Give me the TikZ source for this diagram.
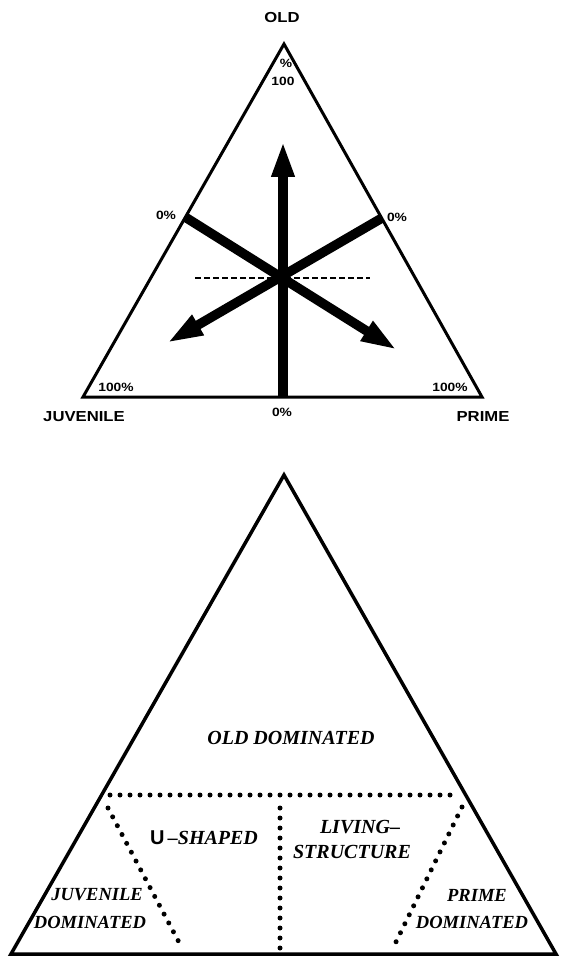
\documentclass[tikz,border=0pt]{standalone}
\usepackage{fontspec}
\setmainfont{Liberation Serif}
\newfontfamily\labfont[FakeStretch=1.15]{Liberation Sans}
\newfontfamily\usans{Liberation Sans}
\usetikzlibrary{arrows.meta}
\begin{document}
\begin{tikzpicture}[x=1pt,y=-1pt,
  lab/.style={font=\labfont\bfseries\fontsize{14.5}{15}\selectfont, inner sep=0pt},
  small/.style={font=\labfont\bfseries\fontsize{12}{12}\selectfont, inner sep=0pt},
  reg/.style={font=\bfseries\itshape\fontsize{20}{20}\selectfont, inner sep=0pt},
  corner/.style={font=\bfseries\itshape\fontsize{18.5}{19}\selectfont, inner sep=0pt},
  edge/.style={line width=3pt, line join=miter},
  bigarrow/.style={line width=9.5pt, -{Triangle[length=36pt,width=21pt]}},
  dashes/.style={line width=2.8pt, dash pattern=on 6pt off 3pt},
  dots/.style={line width=5pt, line cap=round, dash pattern=on 0pt off 10pt}]
\useasboundingbox (0,0) rectangle (560,957);
% ---- top triangle ----
\coordinate (tA) at (284,44);
\coordinate (tJ) at (83,397);
\coordinate (tP) at (482,397);
\draw[edge] (tA) -- (tJ) -- (tP) -- cycle;
\coordinate (dl) at (195,278);
\coordinate (dr) at (370,278);
\draw[dashes] (dl) -- (dr);
\coordinate (bot) at (283,397);
\coordinate (up) at (283,141);
\coordinate (lz) at (185,217);
\coordinate (rz) at (382,218);
\coordinate (ltip) at (167,343);
\coordinate (rtip) at (397,350);
\draw[bigarrow] (bot) -- (up);
\draw[bigarrow] (lz) -- (rtip);
\draw[bigarrow] (rz) -- (ltip);
\node[lab] (old) at (282,18) {OLD};
\node[small] (pct) at (286,63) {\%};
\node[small] (hund) at (283,81) {100};
\node[small] (lzero) at (166,215) {0\%};
\node[small] (rzero) at (397,217) {0\%};
\node[small] (bzero) at (282,412) {0\%};
\node[small] (lhund) at (116,387) {100\%};
\node[small] (rhund) at (450,387) {100\%};
\node[lab] (juv) at (84,417) {JUVENILE};
\node[lab] (prime) at (483,417) {PRIME};
% ---- bottom triangle ----
\coordinate (bA) at (284,475);
\coordinate (bJ) at (11,954);
\coordinate (bP) at (556,954);
\draw[line width=3.5pt, line join=miter] (bA) -- (bJ) -- (bP) -- cycle;
\coordinate (h1) at (110,795);
\coordinate (h2) at (460,795);
\draw[dots] (h1) -- (h2);
\coordinate (l1) at (108,808);
\coordinate (l2) at (182,948);
\draw[dots] (l1) -- (l2);
\coordinate (r1) at (462,807);
\coordinate (r2) at (393,948);
\draw[dots] (r1) -- (r2);
\coordinate (v1) at (280,808);
\coordinate (v2) at (280,953);
\draw[dots] (v1) -- (v2);
\node[reg] (olddom) at (291,738) {OLD DOMINATED};
\node[reg] (ushape) at (204,838) {{\upshape\usans U}\,--SHAPED};
\node[reg] (living) at (360,827) {LIVING--};
\node[reg] (struct) at (352,852) {STRUCTURE};
\node[corner] (jd1) at (97,895) {JUVENILE};
\node[corner] (jd2) at (90,922) {DOMINATED};
\node[corner] (pd1) at (477,895) {PRIME};
\node[corner] (pd2) at (472,922) {DOMINATED};
\end{tikzpicture}
\end{document}
